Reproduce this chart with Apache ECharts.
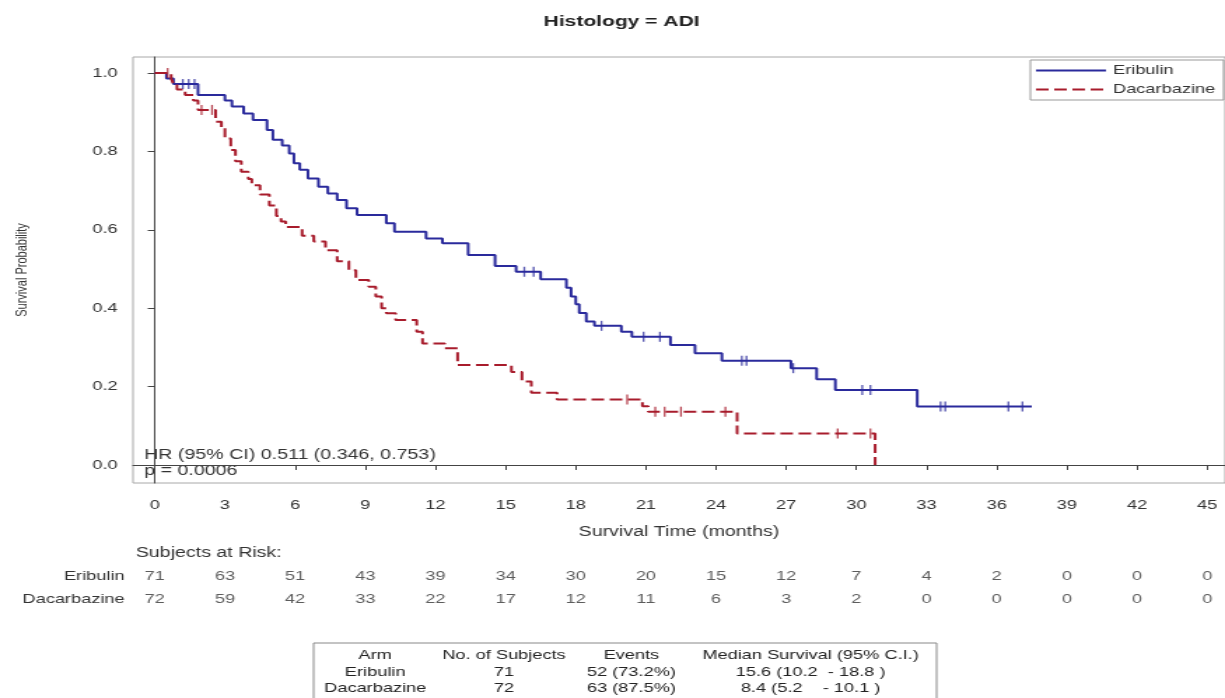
<!DOCTYPE html>
<html>
<head>
    <meta charset="utf-8">
    <title>Histology = ADI</title>
    <script src="https://cdn.jsdelivr.net/npm/echarts@6/dist/echarts.min.js"></script>
    <style>
        html, body { margin: 0; padding: 0; background: #fff; overflow: hidden; }
        /* the source figure is stretched sideways, so draw narrow and widen */
        #km { width: 875px; height: 698px; transform: scaleX(1.4); transform-origin: 0 0; }
    </style>
</head>
<body>
<div id="km"></div>
<script>
    var xTicks = [0, 3, 6, 9, 12, 15, 18, 21, 24, 27, 30, 33, 36, 39, 42, 45];
    var yTicks = [0, 0.2, 0.4, 0.6, 0.8, 1.0];

    // Kaplan-Meier steps [months, survival]
    var eribulinSteps = [
        [0, 1.0], [0.5, 0.986], [0.8, 0.972], [1.85, 0.944], [3.0, 0.93], [3.3, 0.915],
        [3.8, 0.897], [4.2, 0.88], [4.8, 0.855], [5.05, 0.83], [5.45, 0.815], [5.75, 0.795],
        [5.95, 0.77], [6.2, 0.753], [6.55, 0.731], [7.0, 0.71], [7.4, 0.693], [7.8, 0.676],
        [8.2, 0.655], [8.65, 0.638], [9.9, 0.617], [10.25, 0.595], [11.6, 0.578], [12.3, 0.566],
        [13.4, 0.536], [14.55, 0.508], [15.45, 0.493], [16.5, 0.474], [17.6, 0.452], [17.8, 0.43],
        [18.0, 0.41], [18.15, 0.388], [18.45, 0.366], [18.8, 0.355], [19.95, 0.34], [20.4, 0.327],
        [22.05, 0.306], [23.1, 0.285], [24.25, 0.266], [27.2, 0.247], [28.3, 0.219], [29.1, 0.191],
        [32.6, 0.149], [37.5, 0.149]
    ];
    var dacarbazineSteps = [
        [0, 1.0], [0.7, 0.986], [0.8, 0.972], [0.95, 0.958], [1.3, 0.944], [1.65, 0.93],
        [1.85, 0.906], [2.6, 0.876], [2.85, 0.86], [3.0, 0.833], [3.25, 0.804], [3.45, 0.775],
        [3.7, 0.748], [4.0, 0.73], [4.15, 0.714], [4.5, 0.69], [4.9, 0.662], [5.2, 0.635],
        [5.4, 0.621], [5.6, 0.607], [6.3, 0.585], [6.8, 0.57], [7.3, 0.548], [7.8, 0.52],
        [8.3, 0.497], [8.6, 0.472], [9.15, 0.455], [9.45, 0.43], [9.7, 0.4], [9.9, 0.387],
        [10.3, 0.37], [11.2, 0.34], [11.45, 0.31], [12.4, 0.298], [12.95, 0.255], [15.25, 0.237],
        [15.7, 0.213], [16.1, 0.184], [17.2, 0.167], [20.85, 0.15], [21.1, 0.136], [24.9, 0.08],
        [30.8, 0.0]
    ];
    var eribulinCensor = [1.2, 1.45, 1.7, 15.8, 16.2, 19.1, 20.9, 21.6, 25.1, 25.3, 27.3,
        30.25, 30.6, 33.6, 33.8, 36.5, 37.1];
    var dacarbazineCensor = [0.55, 2.0, 2.45, 20.2, 21.4, 21.8, 22.5, 24.4, 29.2, 30.6];

    var riskArms = ['Eribulin', 'Dacarbazine'];
    var eribulinAtRisk = [71, 63, 51, 43, 39, 34, 30, 20, 15, 12, 7, 4, 2, 0, 0, 0];
    var dacarbazineAtRisk = [72, 59, 42, 33, 22, 17, 12, 11, 6, 3, 2, 0, 0, 0, 0, 0];

    var tableHeader = ['Arm', 'No. of Subjects', 'Events', 'Median Survival (95% C.I.)'];
    var tableArms = ['Eribulin', 'Dacarbazine'];
    var tableSubjects = ['71', '72'];
    var tableEvents = ['52 (73.2%)', '63 (87.5%)'];
    var tableMedians = ['15.6 (10.2  - 18.8 )', '8.4 (5.2    - 10.1 )'];

    var hrText = 'HR (95% CI) 0.511 (0.346, 0.753)\np = 0.0006';

    var font = 'Liberation Sans, Arial, sans-serif';
    var blue = '#2a2a9c';
    var red = '#a81c2c';
    var ink = '#333';

    function survivalAt(steps, t) {
        var s = steps[0][1];
        for (var i = 0; i < steps.length; i++) {
            if (steps[i][0] <= t) s = steps[i][1];
        }
        return s;
    }

    function censorPoints(steps, times) {
        return times.map(function (t) { return [t, survivalAt(steps, t)]; });
    }

    function riskPoints(row, counts) {
        return xTicks.map(function (t, i) { return [t, row, counts[i]]; });
    }

    // column centres of the summary table
    var colX = [268, 360, 451, 579];
    var rowY = [655, 672, 688];

    var tableGraphics = [{
        type: 'rect',
        shape: {x: 224, y: 643, width: 445, height: 70},
        style: {fill: 'none', stroke: '#888', lineWidth: 1}
    }];
    var tableRows = [tableHeader,
        [tableArms[0], tableSubjects[0], tableEvents[0], tableMedians[0]],
        [tableArms[1], tableSubjects[1], tableEvents[1], tableMedians[1]]];
    tableRows.forEach(function (row, r) {
        row.forEach(function (txt, c) {
            tableGraphics.push({
                type: 'text', x: colX[c], y: rowY[r],
                style: {text: txt, fontSize: 13, fontFamily: font, fill: '#222', align: 'center', verticalAlign: 'middle'}
            });
        });
    });

    var chart = echarts.init(document.getElementById('km'));

    var option = {
        animation: false,
        backgroundColor: '#fff',
        legend: {
            data: ['Eribulin', 'Dacarbazine'],
            orient: 'vertical',
            left: 736, top: 60,
            itemWidth: 50, itemHeight: 12, itemGap: 6, itemTextGap: 5,
            padding: [4, 6, 4, 3],
            borderColor: '#999', borderWidth: 1,
            itemStyle: {color: 'rgba(0,0,0,0)', borderWidth: 0, opacity: 0},
            textStyle: {fontSize: 13, color: ink, fontFamily: font}
        },
        grid: [
            {left: 95, top: 57, width: 787, height: 426, show: true, borderColor: '#a8a8a8', borderWidth: 1},
            {left: 95, top: 565, width: 787, height: 46}
        ],
        xAxis: [{
            type: 'value', gridIndex: 0, min: -0.93, max: 45.76,
            name: 'Survival Time (months)', nameLocation: 'middle', nameGap: 42,
            nameTextStyle: {fontSize: 14, color: ink, fontFamily: font},
            axisLine: {show: true, lineStyle: {color: '#444'}},
            axisTick: {show: true, customValues: xTicks, length: 5, lineStyle: {color: '#444'}},
            axisLabel: {customValues: xTicks, margin: 16, fontSize: 13, color: ink, fontFamily: font},
            splitLine: {show: false}
        }, {
            type: 'value', gridIndex: 1, min: -0.93, max: 45.76, show: false
        }],
        yAxis: [{
            type: 'value', gridIndex: 0, min: -0.046, max: 1.041,
            name: 'Survival Probability', nameLocation: 'middle', nameGap: 74,
            nameTextStyle: {fontSize: 11, color: ink, fontFamily: font},
            axisLine: {show: true, lineStyle: {color: '#444'}},
            axisTick: {show: true, customValues: yTicks, length: 5, lineStyle: {color: '#444'}},
            axisLabel: {
                customValues: yTicks, margin: 11, fontSize: 13, color: ink, fontFamily: font,
                formatter: function (v) { return v.toFixed(1); }
            },
            splitLine: {show: false}
        }, {
            type: 'category', gridIndex: 1, data: riskArms, inverse: true,
            axisLine: {show: false}, axisTick: {show: false},
            axisLabel: {margin: 6, fontSize: 13, color: ink, fontFamily: font}
        }],
        graphic: [
            {
                type: 'text', x: 444, y: 22,
                style: {text: 'Histology = ADI', fontSize: 15, fontWeight: 'bold', fontFamily: font, fill: '#222', align: 'center', verticalAlign: 'middle'}
            },
            {
                type: 'text', x: 103, y: 447,
                style: {text: hrText, fontSize: 14, lineHeight: 16, fontFamily: font, fill: ink, align: 'left', verticalAlign: 'top'}
            },
            {
                type: 'text', x: 97, y: 553,
                style: {text: 'Subjects at Risk:', fontSize: 14, fontFamily: font, fill: ink, align: 'left', verticalAlign: 'middle'}
            }
        ].concat(tableGraphics),
        series: [
            {
                name: 'Eribulin', type: 'line', step: 'end', symbol: 'none', silent: true,
                data: eribulinSteps, lineStyle: {color: blue, width: 2}, itemStyle: {color: blue}
            },
            {
                name: 'Dacarbazine', type: 'line', step: 'end', symbol: 'none', silent: true,
                data: dacarbazineSteps, lineStyle: {color: red, width: 2, type: [9, 4]}, itemStyle: {color: red}
            },
            {
                name: 'Eribulin censored', type: 'scatter', symbol: 'rect', symbolSize: [1.3, 10], silent: true,
                data: censorPoints(eribulinSteps, eribulinCensor), itemStyle: {color: blue}, z: 3
            },
            {
                name: 'Dacarbazine censored', type: 'scatter', symbol: 'rect', symbolSize: [1.3, 10], silent: true,
                data: censorPoints(dacarbazineSteps, dacarbazineCensor), itemStyle: {color: red}, z: 3
            },
            {
                name: 'At risk Eribulin', type: 'scatter', xAxisIndex: 1, yAxisIndex: 1, symbolSize: 1, silent: true,
                data: riskPoints(0, eribulinAtRisk), itemStyle: {color: 'rgba(0,0,0,0)'},
                label: {show: true, position: 'inside', fontSize: 13, color: ink, fontFamily: font,
                    formatter: function (p) { return p.value[2]; }}
            },
            {
                name: 'At risk Dacarbazine', type: 'scatter', xAxisIndex: 1, yAxisIndex: 1, symbolSize: 1, silent: true,
                data: riskPoints(1, dacarbazineAtRisk), itemStyle: {color: 'rgba(0,0,0,0)'},
                label: {show: true, position: 'inside', fontSize: 13, color: ink, fontFamily: font,
                    formatter: function (p) { return p.value[2]; }}
            }
        ]
    };
    chart.setOption(option);
</script>
</body>
</html>
